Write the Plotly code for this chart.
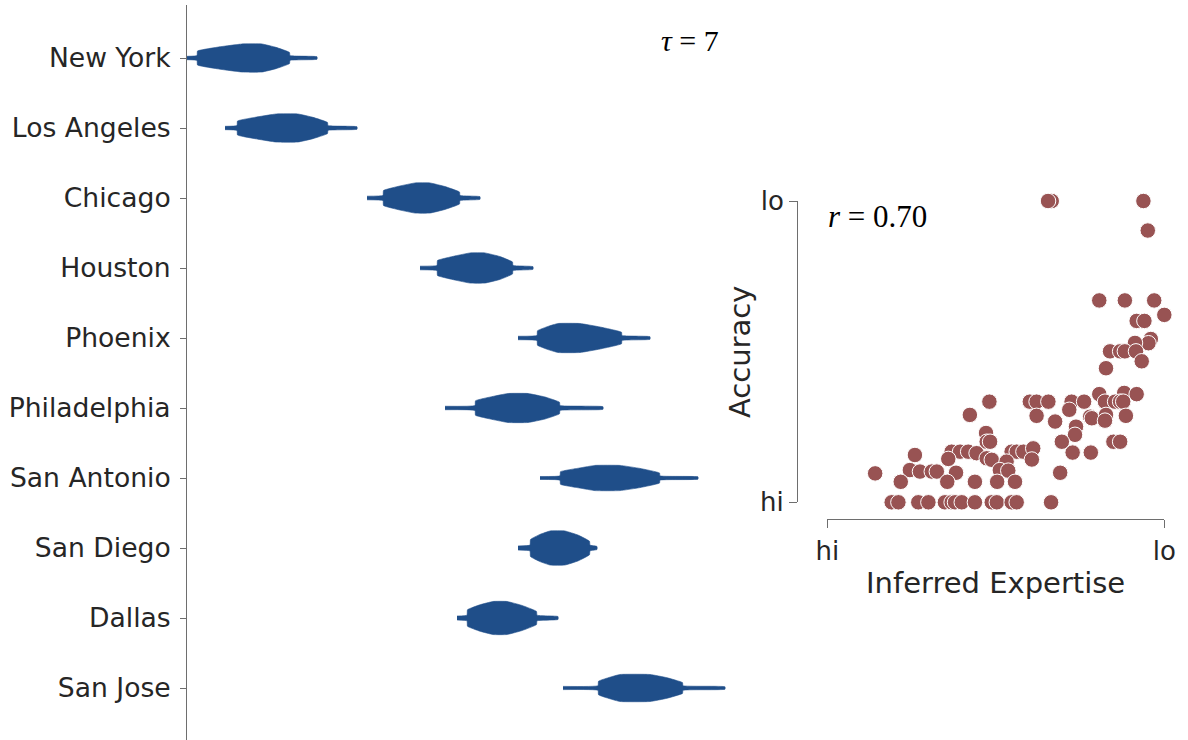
import plotly.graph_objects as go

# ---------------- Left panel: posterior distributions per city ----------------
cities = ["New York", "Los Angeles", "Chicago", "Houston", "Phoenix",
          "Philadelphia", "San Antonio", "San Diego", "Dallas", "San Jose"]

# profile landmarks (score units):
# tail start, dense start, left flank, peak left, peak right, right flank, dense end, tail end
tail_start  = [0,   38,  180, 233, 331, 258, 353, 331, 270, 376]
dense_start = [10,  50,  196, 250, 350, 288, 373, 343, 280, 411]
left_flank  = [33,  71,  213, 268, 361, 306, 393, 353, 293, 423]
peak_left   = [55,  89,  228, 283, 371, 321, 408, 363, 306, 433]
peak_right  = [75,  111, 243, 298, 393, 341, 433, 378, 320, 463]
right_flank = [89,  126, 258, 313, 413, 358, 453, 391, 335, 480]
dense_end   = [103, 141, 273, 326, 435, 373, 473, 403, 350, 496]
tail_end    = [130, 170, 293, 346, 463, 416, 511, 410, 371, 538]
# maximal half-thickness of each density (in category units)
peak_half   = [0.20, 0.20, 0.215, 0.215, 0.207, 0.207, 0.18, 0.243, 0.236, 0.193]
# relative density at each landmark
rel_density = [0.12, 0.17, 0.50, 0.80, 1.0, 1.0, 0.76, 0.40, 0.17, 0.09]

# ---------------- Right panel: expertise vs accuracy ----------------
expertise = [0.666, 0.655, 0.938, 0.951, 0.807, 0.883, 0.970, 1.000, 0.918, 0.941,
             0.960, 0.953, 0.913, 0.839, 0.869, 0.883, 0.916, 0.933, 0.827, 0.807,
             0.881, 0.918, 0.481, 0.601, 0.621, 0.656, 0.725, 0.762, 0.824, 0.854,
             0.869, 0.878, 0.718, 0.423, 0.621, 0.780, 0.785, 0.827, 0.824, 0.886,
             0.676, 0.738, 0.735, 0.471, 0.473, 0.483, 0.696, 0.849, 0.869, 0.369,
             0.394, 0.418, 0.443, 0.547, 0.562, 0.582, 0.611, 0.728, 0.782, 0.260,
             0.473, 0.488, 0.359, 0.532, 0.607, 0.142, 0.245, 0.275, 0.310, 0.325,
             0.382, 0.512, 0.537, 0.691, 0.218, 0.356, 0.438, 0.504, 0.557, 0.191,
             0.211, 0.270, 0.300, 0.349, 0.369, 0.379, 0.399, 0.438, 0.488, 0.503,
             0.547, 0.562, 0.664]
accuracy = [1.000, 1.000, 1.000, 0.902, 0.670, 0.670, 0.670, 0.622, 0.602, 0.602,
            0.542, 0.528, 0.529, 0.501, 0.501, 0.501, 0.501, 0.468, 0.445, 0.359,
            0.363, 0.359, 0.334, 0.334, 0.334, 0.334, 0.334, 0.334, 0.334, 0.334,
            0.334, 0.334, 0.307, 0.290, 0.287, 0.284, 0.279, 0.290, 0.271, 0.287,
            0.268, 0.251, 0.224, 0.230, 0.201, 0.201, 0.201, 0.201, 0.201, 0.168,
            0.168, 0.168, 0.163, 0.168, 0.168, 0.168, 0.179, 0.165, 0.165, 0.157,
            0.146, 0.141, 0.144, 0.135, 0.142, 0.096, 0.107, 0.102, 0.102, 0.102,
            0.098, 0.107, 0.105, 0.098, 0.068, 0.068, 0.068, 0.068, 0.068, 0.0,
            0.0, 0.0, 0.0, 0.0, 0.0, 0.0, 0.0, 0.0, 0.0, 0.0,
            0.0, 0.0, 0.0]
tick_text = ["hi", "lo"]
tau_value = 7
r_value = 0.70

W, H = 1188, 740
BLUE = "#1f4e89"
RED = "#985353"
TXT = "#262626"
SPINE = "#6e6e6e"

fig = go.Figure()

for i, city in enumerate(cities):
    xs_prof = [tail_start[i], dense_start[i], dense_start[i] + 0.5, left_flank[i], peak_left[i],
               peak_right[i], right_flank[i], dense_end[i] - 0.5, dense_end[i], tail_end[i]]
    top = [i - peak_half[i] * d for d in rel_density]
    bot = [i + peak_half[i] * d for d in rel_density]
    xs = xs_prof + xs_prof[::-1]
    ys = top + bot[::-1]
    fig.add_trace(go.Scatter(x=xs, y=ys, fill="toself", fillcolor=BLUE, mode="lines",
                             line=dict(color=BLUE, width=0.6, shape="spline", smoothing=0.35),
                             hoverinfo="skip", showlegend=False, xaxis="x", yaxis="y"))

fig.add_trace(go.Scatter(x=expertise, y=accuracy, mode="markers",
                         marker=dict(size=15.5, color=RED, line=dict(color="white", width=1)),
                         cliponaxis=False, showlegend=False, xaxis="x2", yaxis="y2"))

fig.update_layout(
    template="none",
    width=W, height=H, autosize=False,
    margin=dict(l=0, r=0, t=0, b=0, pad=0),
    paper_bgcolor="white", plot_bgcolor="rgba(0,0,0,0)",
    font=dict(family="DejaVu Sans", color=TXT),
    xaxis=dict(domain=[187 / W, 760 / W], range=[0, 573], visible=False, automargin=False),
    yaxis=dict(domain=[0, 1 - 5 / H], range=[(H - 58) / 70, (5 - 58) / 70],
               tickvals=list(range(len(cities))), ticktext=cities,
               showline=True, linecolor=SPINE, linewidth=1,
               ticks="outside", ticklen=6, tickcolor=SPINE, tickwidth=1,
               tickfont=dict(size=26.6, color=TXT), ticklabelstandoff=4,
               showgrid=False, zeroline=False, anchor="x", automargin=False),
    xaxis2=dict(domain=[827.3 / W, 1164.3 / W], range=[0, 1], anchor="free",
                position=1 - 519 / H, tickvals=[0, 1], ticktext=tick_text,
                showline=True, linecolor=SPINE, linewidth=1,
                ticks="outside", ticklen=8, tickcolor=SPINE, tickwidth=1,
                tickfont=dict(size=26, color=TXT), ticklabelstandoff=1,
                showgrid=False, zeroline=False, automargin=False),
    yaxis2=dict(domain=[1 - 502.3 / H, 1 - 201 / H], range=[0, 1], anchor="free",
                position=797 / W, tickvals=[0, 1], ticktext=tick_text,
                showline=True, linecolor=SPINE, linewidth=1,
                ticks="outside", ticklen=8, tickcolor=SPINE, tickwidth=1,
                tickfont=dict(size=26, color=TXT), ticklabelstandoff=0,
                showgrid=False, zeroline=False, automargin=False),
    annotations=[
        dict(text="<i>τ</i> = %d" % tau_value, x=690 / W, y=1 - 41 / H, xref="paper", yref="paper",
             showarrow=False, font=dict(family="Liberation Serif", size=30, color="black"),
             xanchor="center", yanchor="middle"),
        dict(text="<i>r</i> = %.2f" % r_value, x=877 / W, y=1 - 216 / H, xref="paper", yref="paper",
             showarrow=False, font=dict(family="Liberation Serif", size=31, color="black"),
             xanchor="center", yanchor="middle"),
        dict(text="Inferred Expertise", x=995 / W, y=1 - 583 / H, xref="paper", yref="paper",
             showarrow=False, font=dict(size=29, color=TXT), xanchor="center", yanchor="middle"),
        dict(text="Accuracy", x=740 / W, y=1 - 352 / H, xref="paper", yref="paper", textangle=-90,
             showarrow=False, font=dict(size=29, color=TXT), xanchor="center", yanchor="middle"),
    ],
)

fig.write_html("out.html", config={"displayModeBar": False},
               post_script="document.body.style.margin='0';document.body.style.overflow='hidden';")
